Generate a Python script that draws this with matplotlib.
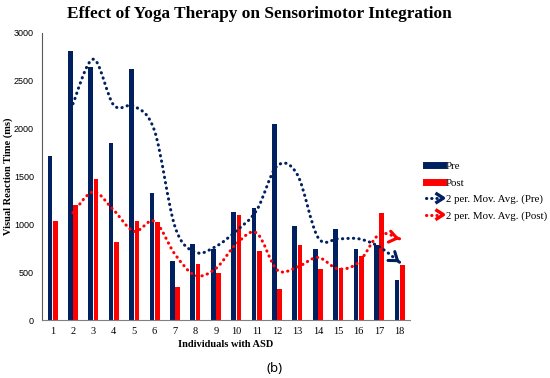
import numpy as np
import matplotlib
matplotlib.use('Agg')
from matplotlib import pyplot as plt
from matplotlib.path import Path
from matplotlib.patches import PathPatch
from matplotlib.lines import Line2D
from matplotlib.legend_handler import HandlerBase

# data
individuals = list(range(1, 19))
pre = [1710, 2810, 2640, 1850, 2620, 1330, 620, 800, 740,
       1125, 1170, 2050, 985, 745, 955, 745, 790, 420]
post = [1040, 1205, 1475, 820, 1035, 1030, 345, 590, 490,
        1100, 720, 330, 780, 530, 540, 670, 1120, 580]
y_ticks = [0, 500, 1000, 1500, 2000, 2500, 3000]

NAVY = '#002060'
RED = '#ff0000'
SERIF = 'Liberation Serif'
SANS = 'Liberation Sans'


def smooth_path(xs, ys):
    # catmull-rom style smoothing drawn as cubic bezier segments
    pts = np.column_stack([xs, ys]).astype(float)
    verts = [pts[0]]
    codes = [Path.MOVETO]
    n = len(pts)
    for i in range(n - 1):
        p0 = pts[max(i - 1, 0)]
        p1 = pts[i]
        p2 = pts[i + 1]
        p3 = pts[min(i + 2, n - 1)]
        verts += [p1 + (p2 - p0) / 6, p2 - (p3 - p1) / 6, p2]
        codes += [Path.CURVE4] * 3
    return Path(verts, codes), verts[-2], verts[-1]


class DottedArrowHandler(HandlerBase):
    def create_artists(self, legend, orig_handle, xdescent, ydescent,
                       width, height, fontsize, trans):
        c = orig_handle.get_color()
        y = height / 2 - ydescent
        line = Line2D([0, width * 0.6], [y, y], color=c, lw=2.2,
                      linestyle=(0, (0.1, 1.6)), dash_capstyle='round',
                      transform=trans)
        head = Line2D([width * 0.62, width, width * 0.62],
                      [y + height * 0.55, y, y - height * 0.55],
                      color=c, lw=2.4, transform=trans)
        return [line, head]


fig = plt.figure(figsize=(5.5, 3.78), dpi=100)
ax = fig.add_axes([0.077, 0.153, 0.668, 0.760])

x = np.array(individuals)
w = 0.23
ax.bar(x - 0.13, pre, width=w, color=NAVY, zorder=2)
ax.bar(x + 0.13, post, width=w, color=RED, zorder=2)

# 2 period moving averages, drawn as smoothed dotted lines with arrow ends
for vals, c in [(pre, NAVY), (post, RED)]:
    v = np.array(vals, dtype=float)
    ma = (v[1:] + v[:-1]) / 2
    path, ctrl, end = smooth_path(x[1:], ma)
    ax.add_patch(PathPatch(path, fill=False, edgecolor=c, lw=2.2,
                           linestyle=(0, (0.1, 1.7)), capstyle='round',
                           zorder=3))
    d = end - ctrl
    d = d / np.hypot(d[0] * 60, d[1] / 50) * 0.001
    ax.annotate('', xy=end, xytext=end - d * 10,
                arrowprops=dict(arrowstyle='->,head_length=0.55,head_width=0.4',
                                color=c, lw=2.2, shrinkA=0, shrinkB=0),
                zorder=4)

ax.set_xlim(0.5, 18.5)
ax.set_ylim(0, 3000)
ax.set_xticks(individuals)
ax.set_xticklabels([str(i) for i in individuals], fontfamily=SERIF, fontsize=7.5)
ax.set_yticks(y_ticks)
ax.set_yticklabels([str(t) for t in y_ticks], fontfamily=SANS, fontsize=6.5)
ax.tick_params(axis='both', length=0)
ax.tick_params(axis='y', pad=6)
ax.tick_params(axis='x', pad=5)

for s in ['top', 'right']:
    ax.spines[s].set_visible(False)
ax.spines['left'].set_color('#595959')
ax.spines['bottom'].set_color('#808080')

ax.set_xlabel('Individuals with ASD', fontfamily=SERIF, fontweight='bold',
              fontsize=7.5, labelpad=3)
ax.set_ylabel('Visual Reaction Time (ms)', fontfamily=SERIF, fontweight='bold',
              fontsize=7.5, labelpad=1)

fig.text(0.471, 0.963, 'Effect of Yoga Therapy on Sensorimotor Integration',
         fontfamily=SERIF, fontweight='bold', fontsize=12.4,
         ha='center', va='center')
fig.text(0.5, 0.024, '(b)', fontfamily='Noto Sans', fontsize=9.5,
         ha='center', va='center')

handles = [
    Line2D([], [], color=NAVY, lw=5),
    Line2D([], [], color=RED, lw=5),
    Line2D([], [], color=NAVY),
    Line2D([], [], color=RED),
]
labels = ['Pre', 'Post', '2 per. Mov. Avg. (Pre)', '2 per. Mov. Avg. (Post)']
fig.legend(handles, labels, loc='upper left', bbox_to_anchor=(0.757, 0.598),
           frameon=False, prop={'family': SERIF, 'size': 7.8},
           handlelength=1.6, handletextpad=0.25, labelspacing=0.62,
           handler_map={handles[2]: DottedArrowHandler(),
                        handles[3]: DottedArrowHandler()})

fig.savefig('out.png', dpi=100)
